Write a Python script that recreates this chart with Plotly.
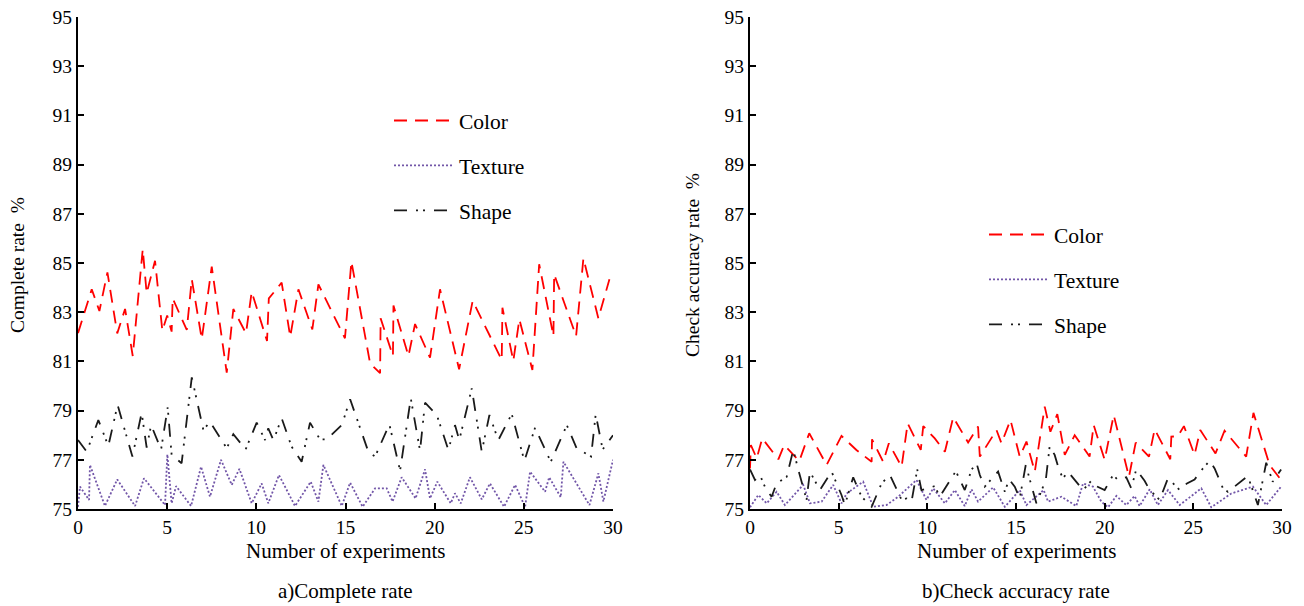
import plotly.graph_objects as go

# ---------------- data ----------------
# a) Complete rate
color_a_x = [0.0,0.77,1.2,1.65,2.2,2.64,3.07,3.63,3.85,4.32,4.73,5.0,5.25,5.31,6.1,6.38,6.94,7.5,8.34,8.71,9.42,9.74,10.6,10.7,11.42,11.9,12.36,13.14,13.48,14.97,15.33,16.38,16.94,16.97,17.66,17.69,18.53,18.9,19.74,20.3,21.37,22.13,23.76,23.8,24.41,24.75,25.48,25.86,26.66,26.7,27.93,28.34,29.18,29.8]
color_a_y = [82.15,83.93,83.05,84.62,82.14,83.13,81.22,85.56,83.77,85.09,82.25,82.87,82.21,83.56,82.28,84.34,81.91,84.85,80.54,83.13,82.14,83.83,81.83,83.56,84.2,82.0,83.93,82.3,84.13,81.94,85.06,80.92,80.52,82.75,81.22,83.27,81.22,82.52,81.15,83.93,80.68,83.46,81.06,83.18,81.02,82.71,80.65,84.95,82.03,84.54,82.03,85.19,82.75,84.34]

texture_a_x = [0,0.11,0.62,0.67,1.51,2.2,3.2,3.7,4.88,5.01,5.25,5.5,6.34,6.9,7.4,8.02,8.62,9.05,9.74,10.3,10.67,11.27,12.17,13.05,13.48,13.76,14.79,15.26,15.96,16.66,17.31,17.64,18.15,18.93,19.46,19.74,20.15,20.9,21.14,21.46,21.98,22.64,23.1,23.89,24.51,25.07,25.35,26.19,26.42,27.07,27.22,28.68,29.18,29.46,30.0]
texture_a_y = [75.09,75.91,75.37,76.79,75.12,76.2,75.12,76.25,75.16,77.22,75.23,75.93,75.12,76.72,75.5,77.0,75.98,76.63,75.23,76.04,75.23,76.38,75.12,76.11,75.3,76.79,75.12,76.07,75.09,75.84,75.84,75.3,76.29,75.43,76.61,75.43,76.11,75.23,75.64,75.23,76.29,75.39,76.04,75.09,75.98,75.09,76.52,75.7,76.29,75.48,76.92,75.16,76.45,75.3,77.0]

shape_a_x = [0,0.49,1.14,1.7,2.22,2.73,3.05,3.57,3.85,4.1,4.66,5.03,5.25,5.81,6.38,7.03,7.4,8.34,8.71,9.4,10.02,10.49,10.67,10.96,11.42,11.98,12.54,13.01,13.57,13.95,14.79,15.26,16.28,16.66,17.46,18.06,18.66,19.18,19.46,20.12,20.77,21.14,21.38,22.08,22.64,23.07,23.57,24.32,25.03,25.63,26.51,27.41,27.96,28.77,29.03,29.42,30.0]
shape_a_y = [77.8,77.33,78.62,77.56,79.23,78.0,77.13,78.91,77.5,78.41,77.42,79.13,77.2,76.86,80.35,78.21,78.55,77.47,78.04,77.42,78.51,77.8,78.28,77.8,78.69,77.53,76.92,78.51,77.83,77.83,78.41,79.46,77.33,77.13,78.44,76.56,79.5,77.37,79.32,78.82,77.4,78.41,77.8,79.9,77.33,78.82,77.8,78.86,76.96,78.3,76.92,78.41,77.47,77.13,78.85,77.42,78.0]

# b) Check accuracy rate
color_b_x = [0,0.05,0.38,0.69,1.6,1.93,2.78,3.34,4.32,5.16,6.0,6.86,6.88,7.51,7.83,8.55,8.89,9.63,9.77,10.42,10.99,11.46,12.3,12.86,12.96,13.9,14.18,14.69,15.21,15.59,16.06,16.62,16.94,17.33,17.75,18.31,19.15,19.38,20.0,20.51,21.37,21.75,22.5,22.82,23.7,23.76,24.13,24.47,25.07,25.39,26.25,26.76,27.98,28.39,29.3,29.95]
color_b_y = [76.65,77.6,77.06,77.87,77.02,77.6,76.95,78.08,76.79,77.97,77.4,76.92,77.83,76.92,77.67,76.72,78.48,77.4,78.37,77.87,77.33,78.73,77.7,78.35,77.13,78.21,77.67,78.62,77.13,77.74,76.52,79.16,78.14,78.86,77.2,78.0,77.13,78.41,77.0,78.82,76.31,77.7,77.13,78.24,77.02,77.94,77.96,78.37,77.2,78.21,77.26,78.18,77.13,78.91,76.79,76.18]

texture_b_x = [0,0.47,0.94,1.5,1.97,3.0,3.38,4.04,4.69,5.16,5.45,6.38,6.95,7.7,8.36,9.39,9.95,10.33,10.99,11.55,12.11,12.49,12.86,13.71,14.37,15.21,15.59,16.56,16.81,17.56,18.4,18.78,19.34,19.81,20.19,20.66,21.22,21.69,21.97,22.54,23.0,23.57,24.23,25.45,26.01,27.14,28.36,29.11,29.95]
texture_b_y = [75.07,75.57,75.23,75.7,75.16,75.98,75.23,75.3,75.98,75.23,75.63,76.11,75.09,75.16,75.5,76.18,75.37,75.84,75.23,75.77,75.12,75.8,75.3,75.88,75.09,75.77,75.16,75.77,75.3,75.5,75.12,76.04,75.91,75.3,75.07,75.53,75.16,75.53,75.12,75.8,75.16,75.77,75.16,75.84,75.07,75.63,75.91,75.16,75.91]

shape_b_x = [0,0.28,0.56,0.88,1.22,1.5,2.07,2.44,2.72,3.19,3.38,3.94,4.6,5.16,5.35,5.82,6.29,6.86,7.42,7.89,8.55,8.83,9.11,9.43,9.67,10.42,10.7,11.61,11.79,12.11,12.49,12.77,12.96,13.24,13.99,14.37,14.61,14.93,15.21,15.55,16.15,16.68,16.9,17.18,17.43,17.65,17.93,18.31,18.78,19.25,19.53,20.0,20.47,20.75,21.22,21.5,21.78,22.25,22.54,23.1,23.57,24.23,24.64,25.07,25.54,25.92,26.2,26.67,26.95,28.07,28.64,29.11,29.48,29.95]
shape_b_y = [76.61,76.18,76.38,75.84,75.5,76.04,76.31,77.4,76.61,75.37,76.52,75.77,76.52,75.57,75.16,76.29,75.5,75.09,76.04,76.38,75.37,75.43,75.3,76.61,75.77,75.93,75.5,76.54,76.25,75.77,76.59,76.88,76.38,75.91,76.52,75.7,76.21,75.91,75.43,76.79,75.23,76.18,77.56,77.2,76.59,76.25,76.52,76.18,75.77,76.15,75.93,75.77,76.38,76.18,76.29,75.84,76.61,76.15,75.77,75.37,76.25,75.77,76.04,76.2,76.65,76.96,76.65,75.84,75.7,76.34,75.16,76.88,76.11,76.61]

series_names = ["Color", "Texture", "Shape"]
y_ticks = [75, 77, 79, 81, 83, 85, 87, 89, 91, 93, 95]
x_ticks = [0, 5, 10, 15, 20, 25, 30]
y_titles = ["Complete rate  %", "Check accuracy rate  %"]
x_title = "Number of experiments"
panel_titles = ["a)Complete rate", "b)Check accuracy rate"]

# ---------------- styling ----------------
FONT = "Liberation Serif, Times New Roman, serif"
styles = {
    "Color": dict(color="#ff0000", width=1.8, dash="13px,8px"),
    "Texture": dict(color="#7256a8", width=1.8, dash="2px,2px"),
    "Shape": dict(color="#1a1a1a", width=1.8, dash="13px,9px,2px,5px,2px,9px"),
}
W, H = 1304, 606

fig = go.Figure()
panels = [
    ((color_a_x, color_a_y), (texture_a_x, texture_a_y), (shape_a_x, shape_a_y)),
    ((color_b_x, color_b_y), (texture_b_x, texture_b_y), (shape_b_x, shape_b_y)),
]
for p, data in enumerate(panels):
    xa = "x" if p == 0 else "x2"
    ya = "y" if p == 0 else "y2"
    lg = "legend" if p == 0 else "legend2"
    for name, (xs, ys) in zip(series_names, data):
        fig.add_trace(go.Scatter(
            x=xs, y=ys, mode="lines", name=name, xaxis=xa, yaxis=ya,
            line=styles[name], legend=lg, legendgroup=f"{p}{name}",
        ))

def px_x(v):
    return v / W

def px_y(v):
    return 1 - v / H

domains_x = [[px_x(78), px_x(613)], [px_x(750), px_x(1282)]]
dom_y = [px_y(509), px_y(17)]

axis_common = dict(
    showline=True, linecolor="black", linewidth=2, ticks="inside", ticklen=6,
    tickwidth=1.5, tickcolor="black", showgrid=False, zeroline=False,
    automargin=False,
    tickfont=dict(family=FONT, size=19.5, color="black"),
)

LEG_FONT = dict(family=FONT, size=21.5, color="black")
layout = dict(
    width=W, height=H, margin=dict(l=0, r=0, t=0, b=0, autoexpand=False),
    paper_bgcolor="white", plot_bgcolor="white",
    font=dict(family=FONT, size=19, color="black"),
    xaxis=dict(domain=domains_x[0], range=[0, 30], tickvals=x_ticks, anchor="y", **axis_common),
    yaxis=dict(domain=dom_y, range=[75, 95], tickvals=y_ticks, anchor="x", **axis_common),
    xaxis2=dict(domain=domains_x[1], range=[0, 30], tickvals=x_ticks, anchor="y2", **axis_common),
    yaxis2=dict(domain=dom_y, range=[75, 95], tickvals=y_ticks, anchor="x2", **axis_common),
    legend=dict(x=px_x(389), y=px_y(100), xanchor="left", yanchor="top",
                font=LEG_FONT, itemwidth=60,
                tracegroupgap=14, bgcolor="rgba(0,0,0,0)"),
    legend2=dict(x=px_x(984), y=px_y(214), xanchor="left", yanchor="top",
                 font=LEG_FONT, itemwidth=60,
                 tracegroupgap=14, bgcolor="rgba(0,0,0,0)"),
    showlegend=True,
)
fig.update_layout(**layout)

ann = []
centers = [345, 1016]
ytitle_x = [17, 692]
for i in range(2):
    ann.append(dict(text=x_title, x=px_x(centers[i]), y=px_y(551), xref="paper", yref="paper",
                    showarrow=False, font=dict(family=FONT, size=21), xanchor="center", yanchor="middle"))
    ann.append(dict(text=panel_titles[i], x=px_x(centers[i]), y=px_y(591), xref="paper", yref="paper",
                    showarrow=False, font=dict(family=FONT, size=21), xanchor="center", yanchor="middle"))
    ann.append(dict(text=y_titles[i], x=px_x(ytitle_x[i]), y=px_y(265), xref="paper", yref="paper",
                    showarrow=False, textangle=-90, font=dict(family=FONT, size=19.5),
                    xanchor="center", yanchor="middle"))
fig.update_layout(annotations=ann)

fig.write_html("out.html")
